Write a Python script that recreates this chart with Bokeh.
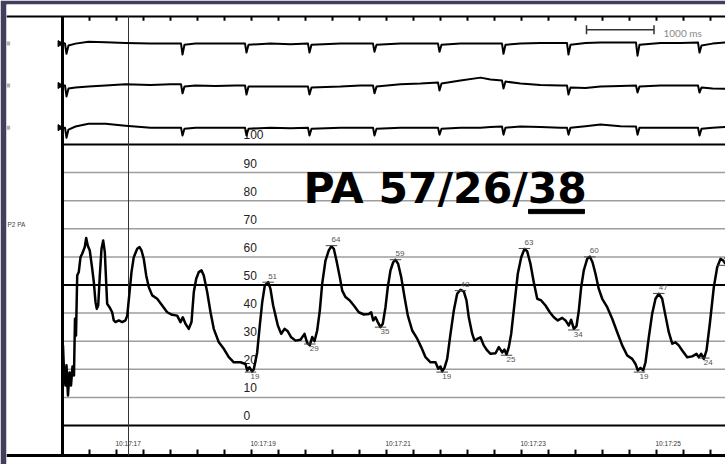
import numpy as np
from bokeh.plotting import figure
from bokeh.models import Range1d
from bokeh.embed import file_html
from bokeh.resources import INLINE
from bokeh.core.properties import value

DARK = "#433e5d"

# ---------------- data (time in seconds after 10:17:00, pressure in mmHg) ----------------
press_t = [16.207, 16.222, 16.244, 16.259, 16.281, 16.304, 16.326, 16.348, 16.370, 16.385,
           16.400, 16.418, 16.441, 16.467, 16.492, 16.530, 16.551, 16.575, 16.604, 16.640,
           16.664, 16.689, 16.708, 16.729, 16.753, 16.778, 16.803, 16.827, 16.847, 16.862,
           16.896, 16.936, 16.960, 16.985, 17.034, 17.084, 17.133, 17.159, 17.193, 17.222,
           17.256, 17.307, 17.341, 17.370, 17.404, 17.440, 17.479, 17.529, 17.603, 17.677,
           17.751, 17.825, 17.899, 17.948, 17.982, 18.022, 18.071, 18.111, 18.145, 18.181,
           18.219, 18.259, 18.293, 18.344, 18.393, 18.441, 18.516, 18.590, 18.664, 18.738,
           18.837, 18.911, 18.936, 18.970, 19.010, 19.034, 19.084, 19.123, 19.159, 19.197,
           19.247, 19.281, 19.321, 19.356, 19.390, 19.440, 19.489, 19.538, 19.588, 19.652,
           19.726, 19.785, 19.825, 19.864, 19.899, 19.933, 19.973, 20.012, 20.047, 20.096,
           20.145, 20.185, 20.219, 20.259, 20.308, 20.344, 20.393, 20.456, 20.516, 20.590,
           20.664, 20.738, 20.773, 20.803, 20.837, 20.871, 20.911, 20.945, 20.985, 21.019,
           21.059, 21.099, 21.133, 21.173, 21.218, 21.267, 21.316, 21.381, 21.455, 21.514,
           21.578, 21.652, 21.726, 21.766, 21.800, 21.825, 21.859, 21.899, 21.948, 21.997,
           22.047, 22.096, 22.145, 22.185, 22.219, 22.270, 22.304, 22.344, 22.393, 22.441,
           22.492, 22.541, 22.615, 22.664, 22.714, 22.748, 22.778, 22.812, 22.847, 22.896,
           22.945, 22.996, 23.044, 23.084, 23.133, 23.182, 23.233, 23.292, 23.356, 23.419,
           23.479, 23.538, 23.603, 23.652, 23.701, 23.736, 23.775, 23.815, 23.849, 23.884,
           23.923, 23.973, 24.012, 24.052, 24.096, 24.145, 24.196, 24.270, 24.344, 24.418,
           24.492, 24.566, 24.640, 24.689, 24.723, 24.763, 24.803, 24.837, 24.886, 24.936,
           24.985, 25.034, 25.084, 25.133, 25.182, 25.233, 25.281, 25.330, 25.381, 25.455,
           25.529, 25.593, 25.627, 25.662, 25.701, 25.741, 25.790, 25.849, 25.899, 25.948,
           25.988, 26.022]
press_v = [28.5, 19.6, 14.2, 21.4, 10.7, 18.9, 14.2, 21.0, 17.8, 38.0,
           32.0, 53.4, 54.6, 59.9, 61.1, 63.5, 66.7, 64.0, 62.3, 55.8,
           51.0, 43.9, 41.5, 42.7, 53.4, 62.9, 65.8, 61.7, 51.0, 43.3,
           42.1, 40.3, 37.4, 36.8, 37.4, 36.8, 37.4, 39.1, 47.4, 54.6,
           59.9, 62.9, 63.5, 62.3, 59.3, 53.4, 49.2, 46.3, 45.1, 42.7,
           40.3, 39.4, 39.1, 36.8, 38.5, 36.2, 34.4, 36.8, 47.4, 52.2,
           54.6, 55.2, 53.4, 47.4, 40.3, 34.4, 29.6, 27.3, 24.3, 22.5,
           22.5, 21.9, 19.6, 20.7, 19.2, 20.0, 26.0, 35.6, 43.9, 49.8,
           51.0, 48.6, 42.7, 39.1, 35.6, 32.6, 34.4, 33.5, 31.4, 30.2,
           30.5, 32.6, 29.4, 28.5, 31.5, 30.0, 33.8, 40.9, 50.4, 58.7,
           62.3, 63.8, 62.9, 58.7, 52.8, 48.0, 45.7, 44.5, 42.7, 40.3,
           39.5, 39.7, 40.3, 37.4, 38.5, 36.8, 35.0, 36.2, 42.1, 49.2,
           55.2, 58.1, 59.0, 57.5, 52.8, 45.7, 39.1, 33.8, 30.9, 27.9,
           24.3, 22.5, 22.5, 20.2, 21.0, 19.3, 20.5, 23.7, 32.6, 40.9,
           46.9, 48.3, 47.7, 44.5, 38.5, 32.6, 30.2, 30.8, 31.4, 28.5,
           26.7, 25.5, 25.7, 27.9, 26.0, 27.0, 25.2, 27.9, 32.6, 43.3,
           54.0, 59.9, 62.8, 62.0, 57.5, 51.0, 45.1, 44.5, 42.7, 40.3,
           38.5, 37.4, 38.3, 37.4, 35.6, 37.6, 34.4, 35.4, 40.9, 49.2,
           55.2, 59.3, 60.1, 58.1, 54.0, 48.6, 45.1, 42.1, 38.0, 33.2,
           28.5, 24.9, 23.7, 21.9, 19.6, 20.5, 19.6, 22.5, 31.4, 39.8,
           45.1, 46.9, 45.1, 39.1, 33.2, 29.1, 29.6, 28.5, 26.7, 24.3,
           24.6, 25.5, 24.3, 25.5, 23.7, 26.7, 36.2, 49.2, 56.3, 59.3,
           58.7, 57.5]

# marked systolic peaks / diastolic troughs
peak_t = [19.247, 20.185, 21.133, 22.096, 23.044, 24.012, 25.034, 25.988]
peak_v = [51, 64, 59, 48, 63, 60, 47, 57]
trough_t = [18.985, 19.864, 20.911, 21.825, 22.778, 23.775, 24.748, 25.701]
trough_v = [19, 29, 35, 19, 25, 34, 19, 24]

# ECG leads (deflection in chart units around each lead's baseline)
ecg_t = [16.200, 16.237, 16.259, 16.289, 16.393, 16.585, 16.837, 17.133, 17.504, 17.800,
         17.956, 17.978, 18.007, 18.170, 18.467, 18.763,
         18.904, 18.926, 18.956, 19.281, 19.578,
         19.837, 19.859, 19.889, 20.319, 20.615,
         20.800, 20.822, 20.852, 21.207, 21.504,
         21.763, 21.785, 21.815, 22.096, 22.393, 22.541,
         22.711, 22.733, 22.763, 22.985, 23.281, 23.578,
         23.674, 23.696, 23.726, 23.948, 24.170, 24.467,
         24.696, 24.719, 24.748, 25.059, 25.356,
         25.615, 25.637, 25.667, 25.830, 26.022]
lead_1 = [0.4, 0, -3.6, -0.7, 0, 0.7, 0.5, 0.2, 0, 0,
          0, -3.9, -0.4, 0, 0, 0,
          0, -3.2, -0.4, 0, -0.2,
          0, -3.2, -0.4, 0, 0,
          0, -2.9, -0.4, 0, 0,
          0, -2.9, -0.4, 0, 0, 0,
          0, -3.6, -0.4, 0, 0.2, 0.2,
          0.2, -3.9, -0.4, 0.2, 0.4, 0.4,
          0.4, -4.3, -0.4, 0.2, 0.2,
          0.4, -3.2, -0.7, 0, 0.4]
lead_2 = [0, 0, -3.9, -1.1, -0.7, -0.4, 0, 0.4, 0.2, 0.4,
          0.4, -2.8, -0.4, 0, -0.2, 0,
          0, -3.2, -0.4, -0.4, -0.4,
          -0.4, -3.2, -0.7, -0.4, 0,
          0, -2.8, -0.4, 0.4, 0.7,
          1.1, -1.8, 0.7, 1.8, 2.8, 2.1,
          1.8, -1.1, 1.4, 0.7, 0.2, 0,
          0, -3.2, -0.7, -0.9, -0.4, -0.2,
          0, -2.5, -0.4, 0, 0,
          0, -2.5, -0.7, -1.1, -1.2]
lead_3 = [0, 0, -3.6, -0.7, 0.4, 1.4, 1.4, 0.7, 0, 0,
          0, -2.8, -0.4, 0, 0, 0,
          0, -2.8, -0.4, 0, -0.2,
          0, -2.8, -0.4, 0, 0,
          0, -2.8, -0.4, 0, 0,
          0, -2.5, -0.4, 0, 0, 0.2,
          0.4, -2.5, 0, 0.4, 0.2, 0,
          0, -2.5, 0, 0.5, 1.1, 0.5,
          0.4, -2.5, 0, 0, 0,
          0, -2.8, -0.4, 0, 0.2]

scale_levels = [0, 10, 20, 30, 40, 50, 60, 70, 80, 90, 100]
scale_labels = [str(v) for v in scale_levels]
heavy_levels = [0, 50, 100]
time_label_t = [17, 19, 21, 23, 25]
time_labels = ["10:17:17", "10:17:19", "10:17:21", "10:17:23", "10:17:25"]
tick_t = [round(16.6 + 0.4 * i, 1) for i in range(24)]

# ---------------- layout constants ----------------
T0, T1 = 15.3704, 26.0222          # visible time window
V0, V1 = -13.88, 149.82            # visible vertical window (mmHg units)
RULE_TOP, RULE_BOT = 145.55, -10.68
FRAME_T = 16.2
CURSOR_T = 17.178
LABEL_T = 18.881
lead_base = [135.9, 121.0, 106.0]
FONT = value("Liberation Sans")

p = figure(width=725, height=464, x_range=Range1d(T0, T1), y_range=Range1d(V0, V1),
           output_backend="svg", toolbar_location=None,
           x_axis_location=None, y_axis_location=None,
           min_border_left=6, min_border_right=0, min_border_top=4, min_border_bottom=0,
           outline_line_color=None, background_fill_color="white", border_fill_color=DARK)
p.xgrid.visible = False
p.ygrid.visible = False

# time rules (top and bottom) with their ticks
p.segment(x0=[T0], x1=[T1 + 1], y0=[RULE_TOP], y1=[RULE_TOP], line_color="black", line_width=2)
p.segment(x0=[T0], x1=[T1 + 1], y0=[RULE_BOT], y1=[RULE_BOT], line_color="black", line_width=3)
n = len(tick_t)
p.segment(x0=tick_t, x1=tick_t, y0=[RULE_TOP] * n, y1=[RULE_TOP - 1.5] * n,
          line_color="black", line_width=2)
p.segment(x0=tick_t, x1=tick_t, y0=[RULE_BOT] * n, y1=[RULE_BOT + 2.1] * n,
          line_color="black", line_width=2)

# pressure scale rules
light = [v for v in scale_levels if v not in heavy_levels]
p.segment(x0=[FRAME_T] * len(light), x1=[T1 + 1] * len(light), y0=light, y1=light,
          line_color="#9e9e9e", line_width=1.5)
p.segment(x0=[FRAME_T] * len(heavy_levels), x1=[T1 + 1] * len(heavy_levels),
          y0=heavy_levels, y1=heavy_levels, line_color="black", line_width=2)

# frame line and cursor
p.segment(x0=[FRAME_T], x1=[FRAME_T], y0=[RULE_BOT], y1=[RULE_TOP], line_color="black",
          line_width=3)
p.segment(x0=[CURSOR_T], x1=[CURSOR_T], y0=[RULE_BOT], y1=[RULE_TOP], line_color="#333333",
          line_width=1)

p.text(x=[LABEL_T] * len(scale_levels), y=scale_levels, text=scale_labels,
       text_font=FONT, text_font_size="12px", text_color="#222222",
       text_align="left", text_baseline="alphabetic", y_offset=-9.5)

# ECG leads
for vals, base in zip([lead_1, lead_2, lead_3], lead_base):
    p.line(ecg_t, [base + v for v in vals], line_color="black", line_width=2, line_join="round")
p.scatter(x=[FRAME_T - 0.04] * 3, y=lead_base, marker="triangle", angle=-np.pi / 2,
          size=6, color="black")
p.rect(x=[15.395] * 3, y=lead_base, width=4, height=4, width_units="screen",
       height_units="screen", fill_color="#b0b0b0", line_color=None)

# pressure trace
p.line(press_t, press_v, line_color="black", line_width=2.5, line_join="round")

# peak / trough markers
hw = 0.085
p.segment(x0=[t - hw for t in peak_t], x1=[t + hw for t in peak_t], y0=peak_v, y1=peak_v,
          line_color="#444444", line_width=1)
p.segment(x0=[t - hw for t in trough_t], x1=[t + hw for t in trough_t], y0=trough_v,
          y1=trough_v, line_color="#444444", line_width=1)
p.text(x=peak_t, y=peak_v, text=[str(v) for v in peak_v], text_font=FONT,
       text_font_size="8px", text_color="#555555", text_align="left",
       text_baseline="alphabetic", y_offset=-6)
p.text(x=trough_t, y=trough_v, text=[str(v) for v in trough_v], text_font=FONT,
       text_font_size="8px", text_color="#555555", text_align="left", text_baseline="top",
       y_offset=2)

# time labels
p.text(x=time_label_t, y=[RULE_BOT + 3.2] * len(time_label_t), text=time_labels,
       text_font=FONT, text_font_size="6.5px", text_color="#333333",
       text_align="left", text_baseline="alphabetic", x_offset=-1, y_offset=-2.6)

# channel name
p.text(x=[15.385], y=[70.5], text=["P2 PA"], text_font=FONT, text_font_size="6.5px",
       text_color="#444444", text_align="left", text_baseline="alphabetic", y_offset=-2.6)

# 1000 ms scale bar
bar_t0, bar_len, bar_v = 23.963, 1.0, 140.8
p.segment(x0=[bar_t0], x1=[bar_t0 + bar_len], y0=[bar_v], y1=[bar_v], line_color="#333333",
          line_width=1.5)
p.segment(x0=[bar_t0, bar_t0 + bar_len], x1=[bar_t0, bar_t0 + bar_len],
          y0=[bar_v - 1.6] * 2, y1=[bar_v + 1.6] * 2, line_color="#333333", line_width=1.5)
p.text(x=[25.104], y=[138.4], text=["1000 ms"], text_font=value("Lato"),
       text_font_size="10px", text_color="#8a8a8a", text_align="left",
       text_baseline="alphabetic", y_offset=-4)

# big annotation
p.text(x=[19.77], y=[78.3], text=["PA 57/26/38"], text_font=value("DejaVu Sans"),
       text_font_style="bold", text_font_size="42.5px", text_color="black",
       text_align="left", text_baseline="alphabetic", y_offset=-17)
p.quad(left=[23.104], right=[23.933], bottom=[75.4], top=[76.9], color="black")

open("out.html", "w").write(file_html(p, INLINE))
